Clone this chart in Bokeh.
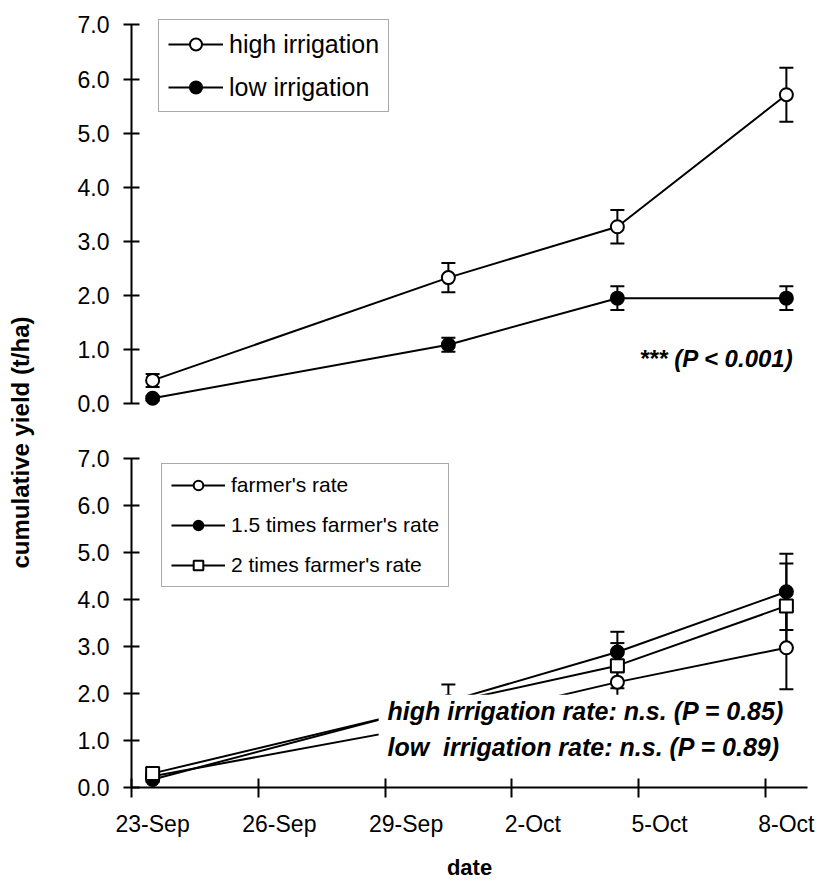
import math

from bokeh.plotting import figure
from bokeh.layouts import row, column
from bokeh.models import (ColumnDataSource, Whisker, TeeHead, Legend, LegendItem,
                          FixedTicker, NumeralTickFormatter, Label, BoxAnnotation,
                          Range1d)
from bokeh.embed import file_html
from bokeh.resources import INLINE

# ---- data ------------------------------------------------------------------
# sampling dates, as days after 23 Sep
sample_dates = ["23-Sep", "30-Sep", "4-Oct", "8-Oct"]
sample_day = [0, 7, 11, 15]

# irrigation treatments (t/ha, +/- standard error)
high_irrigation = [0.43, 2.33, 3.27, 5.71]
high_irrigation_se = [0.12, 0.27, 0.31, 0.50]
low_irrigation = [0.10, 1.09, 1.95, 1.95]
low_irrigation_se = [0.04, 0.13, 0.22, 0.22]

# fertiliser treatments (t/ha, +/- standard error)
farmers_rate = [0.24, 1.40, 2.24, 2.97]
farmers_rate_se = [0.05, 0.30, 0.33, 0.88]
rate_1_5x = [0.17, 1.83, 2.88, 4.16]
rate_1_5x_se = [0.05, 0.36, 0.43, 0.81]
rate_2x = [0.30, 1.80, 2.59, 3.86]
rate_2x_se = [0.05, 0.12, 0.48, 0.90]

# axis ticks
tick_day = [0, 3, 6, 9, 12, 15]
tick_labels = ["23-Sep", "26-Sep", "29-Sep", "2-Oct", "5-Oct", "8-Oct"]
y_ticks = [0, 1, 2, 3, 4, 5, 6, 7]

FONT = "Liberation Sans"
LEFT_W = 40          # strip holding the shared y-axis title
PANEL_W = 818 - LEFT_W
TOP_H = 434
BOTTOM_H = 882 - TOP_H


def add_series(p, values, errors, marker, fill):
    # each sample sits in the middle of its day
    xs = [d + 0.5 for d in sample_day]
    src = ColumnDataSource(dict(
        x=xs, y=values,
        lo=[v - e for v, e in zip(values, errors)],
        hi=[v + e for v, e in zip(values, errors)],
    ))
    whisker = Whisker(source=src, base="x", upper="hi", lower="lo",
                      line_color="black", line_width=2, level="underlay",
                      upper_head=TeeHead(size=14, line_width=2, line_color="black"),
                      lower_head=TeeHead(size=14, line_width=2, line_color="black"))
    p.add_layout(whisker)
    line_r = p.line("x", "y", source=src, line_color="black", line_width=2)
    mark_r = p.scatter("x", "y", source=src, marker=marker, size=13,
                       fill_color=fill, line_color="black", line_width=2)
    return [line_r, mark_r]


def style_panel(p):
    p.outline_line_color = None
    p.background_fill_color = "white"
    p.border_fill_color = "white"
    ax = p.yaxis[0]
    ax.ticker = FixedTicker(ticks=y_ticks, minor_ticks=[])
    ax.formatter = NumeralTickFormatter(format="0.0")
    ax.bounds = (0, 7)
    ax.axis_line_color = "black"
    ax.axis_line_width = 2
    ax.major_tick_line_color = "black"
    ax.major_tick_line_width = 2
    ax.major_tick_in = 8
    ax.major_tick_out = 8
    ax.minor_tick_line_color = None
    ax.major_label_text_font = FONT
    ax.major_label_text_font_size = "23px"
    ax.major_label_text_color = "black"
    ax.major_label_standoff = 14


def style_legend(leg, font_size, glyph_w, row_h, spacing, padding):
    leg.border_line_color = "#555555"
    leg.border_line_width = 1
    leg.background_fill_color = "white"
    leg.background_fill_alpha = 1.0
    leg.label_text_font = FONT
    leg.label_text_font_size = font_size
    leg.label_text_color = "black"
    leg.glyph_width = glyph_w
    leg.glyph_height = row_h
    leg.label_height = row_h
    leg.label_standoff = 6
    leg.spacing = spacing
    leg.padding = padding
    leg.margin = 0


# ---- top panel: irrigation --------------------------------------------------
top = figure(width=PANEL_W, height=TOP_H, output_backend="svg",
             toolbar_location=None, x_axis_location=None,
             x_range=Range1d(0, 16), y_range=Range1d(-0.2, 7.1),
             min_border_left=91, min_border_right=11,
             min_border_top=19, min_border_bottom=20)
top.grid.visible = False
style_panel(top)

hi_r = add_series(top, high_irrigation, high_irrigation_se, "circle", "white")
lo_r = add_series(top, low_irrigation, low_irrigation_se, "circle", "black")

top_leg = Legend(items=[LegendItem(label="high irrigation", renderers=hi_r),
                        LegendItem(label="low irrigation", renderers=lo_r)],
                 location=(27, 302))
style_legend(top_leg, "25px", 55, 30, 13, 9)
top.add_layout(top_leg)

top.add_layout(Label(x=15.67, y=0.83, text="*** (P < 0.001)",
                     text_align="right", text_baseline="middle",
                     text_font=FONT, text_font_size="24px",
                     text_font_style="bold italic", text_color="black"))

# ---- bottom panel: fertiliser rate -----------------------------------------
bottom = figure(width=PANEL_W, height=BOTTOM_H, output_backend="svg",
                toolbar_location=None,
                x_range=Range1d(0, 16), y_range=Range1d(0, 7.1),
                min_border_left=91, min_border_right=11,
                min_border_top=19, min_border_bottom=95)
bottom.grid.visible = False
style_panel(bottom)

fr_r = add_series(bottom, farmers_rate, farmers_rate_se, "circle", "white")
f15_r = add_series(bottom, rate_1_5x, rate_1_5x_se, "circle", "black")
f2_r = add_series(bottom, rate_2x, rate_2x_se, "square", "white")

xa = bottom.xaxis[0]
xa.ticker = FixedTicker(ticks=[d + 0.5 for d in tick_day], minor_ticks=tick_day)
xa.major_label_overrides = {d + 0.5: lab for d, lab in zip(tick_day, tick_labels)}
xa.axis_line_color = "black"
xa.axis_line_width = 2
xa.major_tick_in = 0
xa.major_tick_out = 0
xa.minor_tick_line_color = "black"
xa.minor_tick_line_width = 2
xa.minor_tick_in = 9
xa.minor_tick_out = 10
xa.major_label_text_font = FONT
xa.major_label_text_font_size = "23px"
xa.major_label_text_color = "black"
xa.major_label_standoff = 13
xa.axis_label = "date"
xa.axis_label_text_font = FONT
xa.axis_label_text_font_size = "22px"
xa.axis_label_text_font_style = "bold"
xa.axis_label_text_color = "black"
xa.axis_label_standoff = 15

bot_leg = Legend(items=[LegendItem(label="farmer's rate", renderers=fr_r),
                        LegendItem(label="1.5 times farmer's rate", renderers=f15_r),
                        LegendItem(label="2 times farmer's rate", renderers=f2_r)],
                 location=(30, 200))
style_legend(bot_leg, "21px", 54, 24, 16, 9)
bottom.add_layout(bot_leg)

# white panel behind the significance notes
bottom.add_layout(BoxAnnotation(left=5.85, right=16, bottom=0.55, top=1.97,
                                fill_color="white", fill_alpha=1.0,
                                line_color=None))
for ypos, note in [(1.62, "high irrigation rate: n.s. (P = 0.85)"),
                   (0.87, "low \u00a0irrigation rate: n.s. (P = 0.89)")]:
    bottom.add_layout(Label(x=6.06, y=ypos, text=note,
                            text_align="left", text_baseline="middle",
                            text_font=FONT, text_font_size="25px",
                            text_font_style="bold italic", text_color="black"))

# ---- shared y-axis title ---------------------------------------------------
side = figure(width=LEFT_W, height=882, output_backend="svg",
              toolbar_location=None, x_axis_location=None, y_axis_location=None,
              x_range=Range1d(0, 1), y_range=Range1d(0, 882),
              min_border=0)
side.grid.visible = False
side.outline_line_color = None
side.add_layout(Label(x=0.5, y=440, text="cumulative yield (t/ha)",
                      angle=math.pi / 2, text_align="center",
                      text_baseline="middle", text_font=FONT,
                      text_font_size="24px", text_font_style="bold",
                      text_color="black"))

layout = row(side, column(top, bottom))

with open("out.html", "w") as f:
    f.write(file_html(layout, INLINE))
